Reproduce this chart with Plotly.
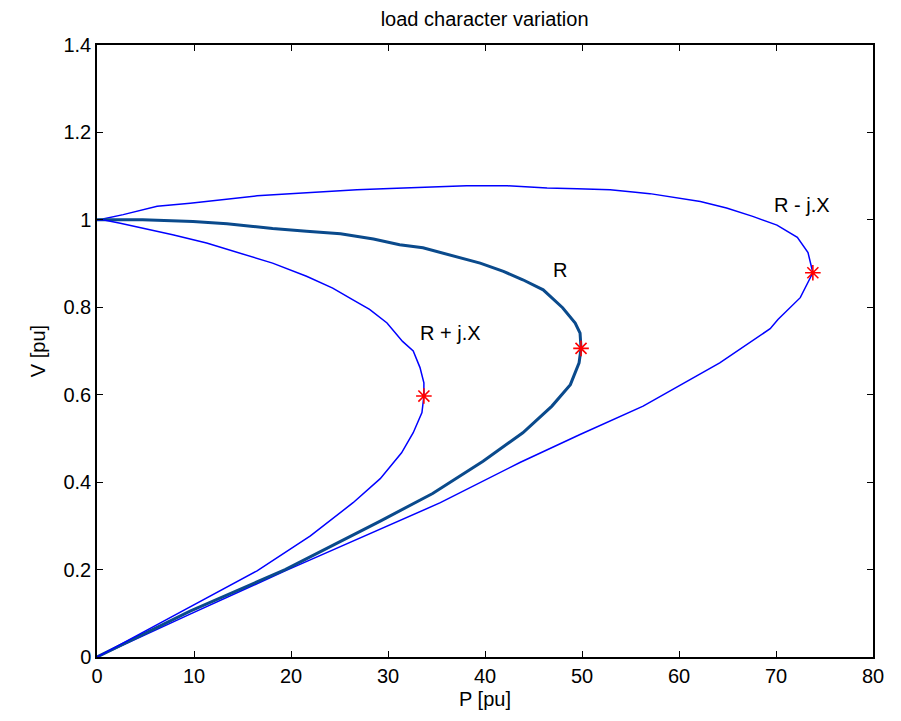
import plotly.graph_objects as go

# R - j.X curve
p_rmx = [0, 0.6, 2.7, 4.5, 6.2, 9.6, 13.0, 16.5, 19.9, 23.3, 26.8, 30.2, 34.0, 38.1, 42.3, 46.4, 49.5, 52.9, 55.5, 57.0,
         62.2, 64.9, 67.6, 70.1, 72.2, 73.3, 73.8, 72.5, 70.2, 69.4, 64.2, 56.3, 49.8, 43.6, 35.4, 29.2, 19.4, 9.6, 0]
v_rmx = [1.0, 1.002, 1.012, 1.022, 1.031, 1.038, 1.047, 1.055, 1.060, 1.065, 1.069, 1.072, 1.075, 1.078, 1.078, 1.073, 1.071, 1.069, 1.063, 1.060,
         1.042, 1.027, 1.008, 0.988, 0.960, 0.925, 0.879, 0.822, 0.772, 0.751, 0.673, 0.574, 0.509, 0.445, 0.353, 0.292, 0.197, 0.098, 0]

# R curve
p_r = [0, 0.6, 4.7, 9.9, 13.4, 16.1, 18.1, 21.6, 25.1, 28.5, 31.2, 33.6, 36.4, 39.5, 41.9, 43.9, 46.0, 48.0, 49.3, 49.8,
       49.9, 49.7, 48.8, 46.9, 43.9, 39.8, 34.6, 29.2, 19.4, 9.6, 0]
v_r = [1.0, 1.0, 1.0, 0.996, 0.991, 0.985, 0.980, 0.974, 0.968, 0.956, 0.943, 0.936, 0.920, 0.901, 0.882, 0.863, 0.840, 0.799, 0.764, 0.741,
       0.706, 0.673, 0.623, 0.574, 0.513, 0.448, 0.374, 0.311, 0.200, 0.105, 0]

# R + j.X curve
p_rpx = [0, 0.6, 2.4, 4.4, 7.8, 11.3, 14.7, 18.1, 21.6, 24.3, 26.3, 28.1, 29.9, 31.5, 32.6, 33.3, 33.7, 33.7,
         33.5, 32.6, 31.4, 29.2, 26.4, 22.0, 16.5, 0]
v_rpx = [1.0, 1.0, 0.992, 0.983, 0.966, 0.947, 0.924, 0.901, 0.871, 0.844, 0.818, 0.795, 0.764, 0.722, 0.700, 0.662, 0.627, 0.597,
         0.559, 0.513, 0.467, 0.408, 0.353, 0.277, 0.197, 0]

# critical points
p_crit = [33.7, 49.9, 73.8]
v_crit = [0.597, 0.706, 0.879]

labels = ["R + j.X", "R", "R - j.X"]
label_p = [36.4, 47.7, 72.7]
label_v = [0.742, 0.886, 1.034]

FONT = "Liberation Sans, Arial"

fig = go.Figure()
fig.add_trace(go.Scatter(x=p_rmx, y=v_rmx, mode="lines", line=dict(color="#0000ff", width=1.5), showlegend=False))
fig.add_trace(go.Scatter(x=p_r, y=v_r, mode="lines", line=dict(color="#0a4a8c", width=3), showlegend=False))
fig.add_trace(go.Scatter(x=p_rpx, y=v_rpx, mode="lines", line=dict(color="#0000ff", width=1.5), showlegend=False))
fig.add_trace(go.Scatter(x=p_crit, y=v_crit, mode="markers",
                         marker=dict(symbol="asterisk-open", size=13, color="red", line=dict(color="red", width=1.6)),
                         showlegend=False))

for t, x, y in zip(labels, label_p, label_v):
    fig.add_annotation(x=x, y=y, text=t, showarrow=False,
                       font=dict(family=FONT, size=20, color="black"))

axis_common = dict(showgrid=False, zeroline=False, showline=True, linecolor="black", linewidth=1.5,
                   mirror="allticks", ticks="inside", ticklen=6, tickwidth=1, tickcolor="black",
                   tickfont=dict(family=FONT, size=20, color="black"))

fig.update_layout(
    width=901, height=721,
    paper_bgcolor="white", plot_bgcolor="white",
    margin=dict(l=89, r=36, t=37, b=72),
    title=dict(text="load character variation", x=0.529, xanchor="center", y=0.985, yanchor="middle",
               font=dict(family=FONT, size=20, color="black")),
    xaxis=dict(range=[0, 80], tickvals=[0, 10, 20, 30, 40, 50, 60, 70, 80],
               title=dict(text="P [pu]", standoff=6, font=dict(family=FONT, size=20, color="black")),
               **axis_common),
    yaxis=dict(range=[0, 1.4], tickvals=[0, 0.2, 0.4, 0.6, 0.8, 1.0, 1.2, 1.4],
               ticktext=["0", "0.2", "0.4", "0.6", "0.8", "1", "1.2", "1.4"],
               title=dict(text="V [pu]", standoff=12, font=dict(family=FONT, size=20, color="black")),
               **axis_common),
)

fig.write_html("out.html")
